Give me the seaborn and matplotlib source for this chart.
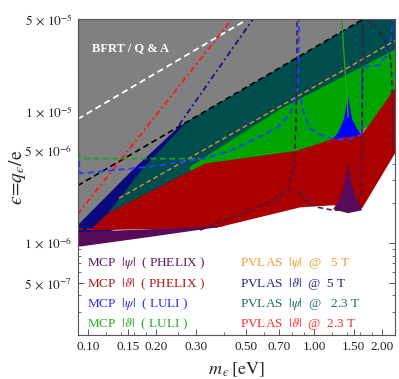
import matplotlib
matplotlib.use('Agg')
import matplotlib.pyplot as plt
import matplotlib.ticker as mticker
import seaborn as sns

# axis ticks
x_ticks = [0.10, 0.15, 0.20, 0.30, 0.50, 0.70, 1.00, 1.50, 2.00]
x_tick_labels = ['0.10', '0.15', '0.20', '0.30', '0.50', '0.70', '1.00', '1.50', '2.00']
x_minor = [0.12, 0.14, 0.16, 0.18, 0.25, 0.4, 0.6, 0.8, 0.9, 1.2, 1.4, 1.6, 1.8]
y_ticks = [5e-7, 1e-6, 5e-6, 1e-5, 5e-5]
y_tick_labels = [r'$5\,\times\,10^{-7}$', r'$1\,\times\,10^{-6}$', r'$5\,\times\,10^{-6}$',
                 r'$1\,\times\,10^{-5}$', r'$5\,\times\,10^{-5}$']

# excluded regions: mass m [eV] and epsilon
gray_m = [0.09, 0.368, 0.8675, 1.631, 2.3, 2.3, 0.09]
gray_eps = [1.25e-6, 1.30e-6, 2.5e-6, 2.98e-6, 7.2e-6, 5e-5, 5e-5]

navy_m = [0.09, 0.09, 0.1549, 0.2529, 0.2974, 0.2974, 0.1226]
navy_eps = [9.66e-7, 1.36e-6, 3.48e-6, 7.64e-6, 8.99e-6, 2.11e-6, 1.21e-6]

teal_m = [0.1226, 0.1717, 0.2716, 1.66, 2.3, 2.3, 0.3131, 0.1226]
teal_eps = [1.68e-6, 3.54e-6, 8.21e-6, 5.02e-5, 5e-5, 1.19e-5, 3.08e-6, 1.60e-6]

green_m = [0.2827, 0.7079, 2.3, 2.3, 0.8414, 0.2827]
green_eps = [3.79e-6, 1.035e-5, 2.95e-5, 1.0e-5, 3.86e-6, 2.98e-6]

blue_m = [1.177, 1.277, 1.357, 1.413, 1.472, 1.549, 1.631, 1.413]
blue_eps = [5.85e-6, 6.83e-6, 8.71e-6, 1.30e-5, 8.71e-6, 7.32e-6, 6.49e-6, 5.46e-6]

red_m = [0.1031, 0.1226, 0.3298, 0.8414, 1.214, 1.631, 2.3, 2.3, 1.631, 1.214, 0.8675, 0.3684, 0.1031]
red_eps = [1.27e-6, 1.68e-6, 4.00e-6, 5.0e-6, 6.16e-6, 6.60e-6, 1.52e-5, 4.9e-6, 1.83e-6,
           1.93e-6, 1.86e-6, 1.30e-6, 1.25e-6]

purple_m = [0.09, 0.188, 0.404, 0.188, 0.09]
purple_eps = [1.21e-6, 1.27e-6, 1.34e-6, 1.11e-6, 9.33e-7]
purple_peak_m = [1.214, 1.290, 1.357, 1.413, 1.472, 1.549, 1.631, 1.413]
purple_peak_eps = [1.80e-6, 2.11e-6, 2.73e-6, 4.00e-6, 2.73e-6, 2.11e-6, 1.77e-6, 1.68e-6]

# bound curves
bfrt_m = [0.09, 0.50]
bfrt_eps = [8.7e-6, 4.9e-5]
black_m = [0.09, 1.66]
black_eps = [2.72e-6, 5.02e-5]
pvlas_th23_m = [0.09, 0.43]
pvlas_th23_eps = [1.65e-6, 4.9e-5]
pvlas_th5_m = [0.2529, 0.537]
pvlas_th5_eps = [7.85e-6, 5.0e-5]
pvlas_psi5_m = [0.1371, 2.3]
pvlas_psi5_eps = [2.18e-6, 3.45e-5]
luli_th_m = [0.0906, 0.0906, 0.092, 0.095, 0.33]
luli_th_eps = [5e-5, 5e-6, 4.5e-6, 4.37e-6, 4.35e-6]
luli_th_res_m = [1.325, 1.36, 1.39, 1.405, 1.413]
luli_th_res_eps = [5e-5, 2.5e-5, 1.5e-5, 1.1e-5, 9e-6]
luli_psi_a_m = [0.0912, 0.0922, 0.102, 0.188, 0.323, 0.425, 0.548, 0.686, 0.783, 0.824, 0.850, 0.858]
luli_psi_a_eps = [4.21e-6, 3.36e-6, 3.42e-6, 3.79e-6, 4.35e-6, 5.0e-6, 6.16e-6, 7.45e-6,
                  9.49e-6, 1.19e-5, 1.54e-5, 5e-5]
luli_psi_b_m = [0.876, 0.903, 0.960, 1.063, 1.214, 1.413, 1.631, 1.631, 1.70, 1.92, 2.08, 2.17, 2.24]
luli_psi_b_eps = [1.25e-5, 9.49e-6, 7.45e-6, 6.6e-6, 6.16e-6, 6.05e-6, 6.71e-6, 2.07e-5,
                  2.18e-5, 2.22e-5, 2.59e-5, 3.19e-5, 5e-5]
phelix_psi_0_m = [0.0905, 0.0905]
phelix_psi_0_eps = [2.73e-6, 1.02e-6]
phelix_psi_1_m = [0.3131, 0.5208, 0.672, 0.767, 0.815, 0.833, 0.8414]
phelix_psi_1_eps = [1.25e-6, 1.77e-6, 2.11e-6, 2.50e-6, 3.86e-6, 8.41e-6, 5e-5]
phelix_psi_2_m = [0.858, 0.912, 1.041, 1.214, 1.443, 1.566, 1.614, 1.631, 1.648]
phelix_psi_2_eps = [2.5e-6, 2.11e-6, 1.86e-6, 1.77e-6, 1.77e-6, 1.93e-6, 2.50e-6, 8.41e-6, 5e-5]
phelix_psi_3_m = [1.70, 1.862, 2.019, 2.125, 2.192, 2.214, 2.24]
phelix_psi_3_eps = [5e-5, 4.43e-5, 3.66e-5, 3.08e-5, 2.38e-5, 1.41e-5, 5e-6]
phelix_th_m = [0.0905, 0.103]
phelix_th_eps = [1.27e-6, 1.27e-6]

legend_left = [r'MCP  $|\psi|$  ( PHELIX )', r'MCP  $|\vartheta|$  ( PHELIX )',
               r'MCP  $|\psi|$  ( LULI )', r'MCP  $|\vartheta|$  ( LULI )']
legend_left_colors = ['#5e1a5e', '#b01818', '#2a2aff', '#22aa22']
legend_right = [r'PVLAS  $|\psi|$  @   5 T', r'PVLAS  $|\vartheta|$  @  5 T',
                r'PVLAS  $|\psi|$  @   2.3 T', r'PVLAS  $|\vartheta|$  @  2.3 T']
legend_right_colors = ['#f59a3a', '#22228c', '#1e6a6a', '#ff2a2a']

sns.set_style('ticks')
plt.rcParams['font.family'] = ['Liberation Serif', 'DejaVu Serif']
plt.rcParams['mathtext.fontset'] = 'stix'

fig = plt.figure(figsize=(3.99, 3.79), dpi=100)
ax = fig.add_axes([78 / 399, 44 / 379, 317 / 399, 316 / 379])
ax.set_xscale('log')
ax.set_yscale('log')

ax.fill(gray_m, gray_eps, color='#808080', lw=0, zorder=1)
ax.fill(navy_m, navy_eps, color='#0a0a7e', lw=0, zorder=2)
ax.fill(teal_m, teal_eps, color='#004d4d', lw=0, zorder=3)
ax.fill(green_m, green_eps, color='#00a400', lw=0, zorder=4)
ax.fill(blue_m, blue_eps, color='#0000ff', lw=0, zorder=5)
ax.fill(red_m, red_eps, color='#aa0000', lw=0, zorder=6)
ax.fill(purple_m, purple_eps, color='#5a0a5a', lw=0, zorder=7)
ax.fill(purple_peak_m, purple_peak_eps, color='#5a0a5a', lw=0, zorder=7)

dash = (3.5, 2.2)
dashdot = (3, 1.6, 1, 1.6)
curves = [
    (bfrt_m, bfrt_eps, 'white', dash, 1.3),
    (black_m, black_eps, 'black', dash, 1.2),
    (pvlas_th23_m, pvlas_th23_eps, '#ff1a1a', dashdot, 1.4),
    (pvlas_th5_m, pvlas_th5_eps, '#1a1a8c', dashdot, 1.4),
    (pvlas_psi5_m, pvlas_psi5_eps, '#e0902c', dash, 1.0),
    (luli_th_m, luli_th_eps, '#22a022', dash, 1.2),
    (luli_th_res_m, luli_th_res_eps, '#22a022', None, 1.0),
    (luli_psi_a_m, luli_psi_a_eps, '#2040ff', dash, 1.3),
    (luli_psi_b_m, luli_psi_b_eps, '#2040ff', dash, 1.3),
    (phelix_psi_0_m, phelix_psi_0_eps, '#4a1450', dash, 1.1),
    (phelix_psi_1_m, phelix_psi_1_eps, '#4a1450', dash, 1.1),
    (phelix_psi_2_m, phelix_psi_2_eps, '#4a1450', dash, 1.1),
    (phelix_psi_3_m, phelix_psi_3_eps, '#4a1450', dash, 1.1),
    (phelix_th_m, phelix_th_eps, '#c01010', dash, 1.1),
]
for m, e, c, d, lw in curves:
    sns.lineplot(x=m, y=e, sort=False, estimator=None, color=c, lw=lw, ax=ax, zorder=10)
    if d is not None:
        ax.lines[-1].set_dashes(d)

ax.set_xlim(0.0903, 2.28)
ax.set_ylim(2e-7, 5e-5)

ax.xaxis.set_major_locator(mticker.FixedLocator(x_ticks))
ax.xaxis.set_major_formatter(mticker.FixedFormatter(x_tick_labels))
ax.xaxis.set_minor_locator(mticker.FixedLocator(x_minor))
ax.xaxis.set_minor_formatter(mticker.NullFormatter())
ax.yaxis.set_major_locator(mticker.FixedLocator(y_ticks))
ax.yaxis.set_major_formatter(mticker.FixedFormatter(y_tick_labels))
ax.yaxis.set_minor_locator(mticker.LogLocator(base=10, subs=[2, 3, 4, 6, 7, 8, 9], numticks=20))
ax.yaxis.set_minor_formatter(mticker.NullFormatter())

ax.tick_params(which='both', direction='in', top=True, right=True, color='#555555',
               labelsize=9.5, labelcolor='#222222')
ax.tick_params(which='major', length=4.5, width=0.7, pad=4)
ax.tick_params(which='minor', length=2.5, width=0.6)
for sp in ax.spines.values():
    sp.set_color('#555555')
    sp.set_linewidth(0.8)
    sp.set_zorder(20)

ax.set_xlabel(r'$m_{\,ϵ}\,[\mathrm{eV}]$', fontsize=13)
ax.xaxis.set_label_coords(0.5, -0.11)
ax.xaxis.label.set_va('center')
ax.set_ylabel(r'$ϵ\!=\!q_{ϵ}/\mathrm{e}$', fontsize=14)
ax.yaxis.set_label_coords(-0.19, 0.5)
ax.yaxis.label.set_va('center')

ax.text(0.044, 0.908, 'BFRT / Q & A', transform=ax.transAxes, color='white',
        fontsize=9, fontweight='bold', va='center', zorder=15)

rows_y = [0.228, 0.161, 0.098, 0.035]
for txt, c, yy in zip(legend_left, legend_left_colors, rows_y):
    ax.text(0.028, yy, txt, transform=ax.transAxes, color=c, fontsize=9.5, va='center', zorder=15)
for txt, c, yy in zip(legend_right, legend_right_colors, rows_y):
    ax.text(0.511, yy, txt, transform=ax.transAxes, color=c, fontsize=9.5, va='center', zorder=15)

fig.savefig('out.png', dpi=100)
